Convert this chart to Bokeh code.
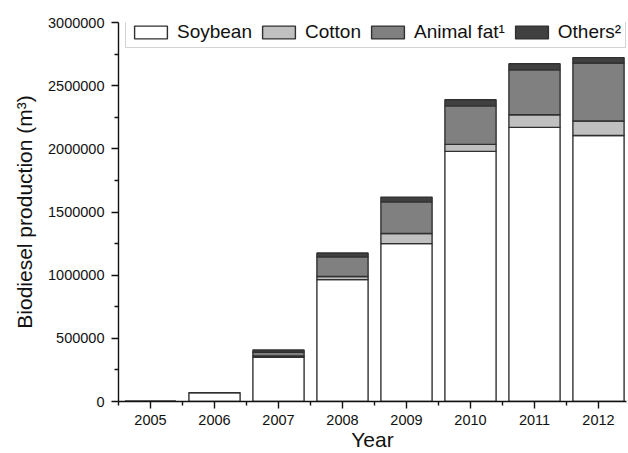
from bokeh.plotting import figure
from bokeh.models import Range1d, FixedTicker, Legend, LegendItem
from bokeh.embed import file_html
from bokeh.resources import INLINE

years = [2005, 2006, 2007, 2008, 2009, 2010, 2011, 2012]
year_labels = ["2005", "2006", "2007", "2008", "2009", "2010", "2011", "2012"]
soybean = [0, 70000, 350000, 965000, 1250000, 1980000, 2170000, 2105000]
cotton = [0, 0, 10000, 25000, 80000, 55000, 100000, 115000]
animal_fat = [0, 0, 30000, 155000, 250000, 305000, 355000, 460000]
others = [0, 0, 18000, 30000, 38000, 48000, 48000, 42000]
series_names = ["soybean", "cotton", "animal_fat", "others"]
legend_labels = ["Soybean", "Cotton", "Animal fat\u00b9", "Others\u00b2"]
colors = ["#ffffff", "#c0c0c0", "#808080", "#404040"]
y_ticks = [0, 500000, 1000000, 1500000, 2000000, 2500000, 3000000]
y_tick_labels = ["0", "500000", "1000000", "1500000", "2000000", "2500000", "3000000"]

FONT = "Liberation Sans"

data = dict(x=years, soybean=soybean, cotton=cotton, animal_fat=animal_fat, others=others)

p = figure(width=628, height=453, output_backend="svg", toolbar_location=None,
           x_range=Range1d(2004.5, 2012.4375), y_range=Range1d(0, 3000000),
           min_border_left=118, min_border_right=2, min_border_top=22, min_border_bottom=52)

rs = p.vbar_stack(series_names, x="x", width=0.8, source=data, color=colors,
                  line_color="#303030", line_width=1.4)

p.xgrid.grid_line_color = None
p.ygrid.grid_line_color = None
p.outline_line_color = None
p.background_fill_color = "white"
p.border_fill_color = "white"

xminor = [y - 0.5 for y in years] + [years[-1] + 0.5]
p.xaxis.ticker = FixedTicker(ticks=years, minor_ticks=xminor)
p.xaxis.major_label_overrides = {y: l for y, l in zip(years, year_labels)}
yminor = [t + 250000 for t in y_ticks[:-1]]
p.yaxis.ticker = FixedTicker(ticks=y_ticks, minor_ticks=yminor)
p.yaxis.major_label_overrides = {t: l for t, l in zip(y_ticks, y_tick_labels)}

for ax in (p.xaxis[0], p.yaxis[0]):
    ax.axis_line_color = "#111111"
    ax.axis_line_width = 1.4
    ax.major_tick_line_color = "#111111"
    ax.major_tick_line_width = 1.4
    ax.minor_tick_line_color = "#111111"
    ax.minor_tick_line_width = 1.4
    ax.major_tick_in = 0
    ax.major_tick_out = 7
    ax.minor_tick_in = 0
    ax.minor_tick_out = 4
    ax.major_label_text_font = FONT
    ax.major_label_text_font_size = "14.5px"
    ax.major_label_text_color = "#111111"
    ax.axis_label_text_font = FONT
    ax.axis_label_text_font_size = "21px"
    ax.axis_label_text_font_style = "normal"
    ax.axis_label_text_color = "#111111"

p.xaxis.axis_label = "Year"
p.xaxis.major_label_standoff = 6
p.xaxis.axis_label_standoff = 0
p.yaxis.axis_label = "Biodiesel production (m\u00b3)"
p.yaxis.major_label_standoff = 7
p.yaxis.axis_label_standoff = 9

legend = Legend(items=[LegendItem(label=l, renderers=[r]) for l, r in zip(legend_labels, rs)],
                orientation="horizontal", location=(7, 353),
                label_text_font=FONT, label_text_font_size="19px", label_text_color="#111111",
                glyph_width=41, glyph_height=16, label_standoff=6, spacing=6,
                label_height=21,
                padding=4, margin=0, border_line_color="#a8a8a8", border_line_width=1.2,
                background_fill_color="white", background_fill_alpha=1.0)
p.add_layout(legend, "center")

open("out.html", "w").write(file_html(p, INLINE))
